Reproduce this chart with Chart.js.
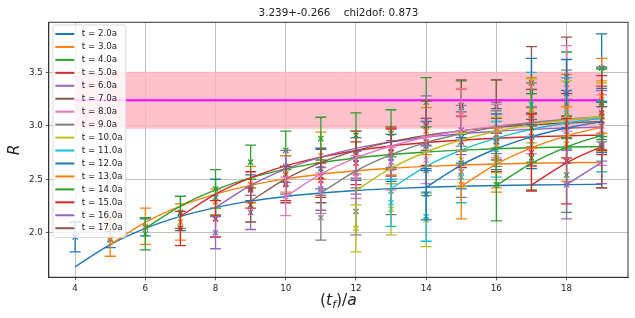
<!DOCTYPE html>
<html>
<head>
<meta charset="utf-8">
<script src="https://cdn.jsdelivr.net/npm/chart.js@4.4.1/dist/chart.umd.min.js"></script>
<style>
  html, body { margin: 0; padding: 0; background: #fff; }
  #wrap { width: 635px; height: 318px; }
</style>
</head>
<body>
<div id="wrap"><canvas id="chart" width="635" height="318"></canvas></div>
<script>
'use strict';

// fit result (title + band)
const plateau = 3.239;
const plateauErr = 0.266;
const chi2dof = 0.873;
const bandRange = [4, 19];

// source times t/a; every series starts at t_f = t + 2 and runs to 19
const tValues = [2, 3, 4, 5, 6, 7, 8, 9, 10, 11, 12, 13, 14, 15, 16, 17];

const xTicks = [4, 6, 8, 10, 12, 14, 16, 18];
const yTicks = [2.0, 2.5, 3.0, 3.5];
const xLabel = '(t_f)/a';
const yLabel = 'R';

// fitted curves, one row per t, read at t_f = t+2 ... 19
const fitR = [
  [1.681, 1.889, 2.041, 2.153, 2.235, 2.295, 2.339, 2.371, 2.395, 2.412, 2.425, 2.434, 2.441, 2.446, 2.450, 2.453],
  [1.889, 2.097, 2.249, 2.361, 2.443, 2.503, 2.547, 2.579, 2.603, 2.620, 2.633, 2.642, 2.649, 2.654, 2.658],
  [2.041, 2.249, 2.401, 2.513, 2.595, 2.655, 2.699, 2.731, 2.755, 2.772, 2.785, 2.794, 2.801, 2.806],
  [2.153, 2.361, 2.513, 2.625, 2.707, 2.767, 2.811, 2.843, 2.867, 2.884, 2.897, 2.906, 2.913],
  [2.235, 2.443, 2.595, 2.707, 2.789, 2.849, 2.893, 2.925, 2.949, 2.966, 2.979, 2.988],
  [2.295, 2.503, 2.655, 2.767, 2.849, 2.909, 2.953, 2.985, 3.009, 3.026, 3.039],
  [2.339, 2.547, 2.699, 2.811, 2.893, 2.953, 2.997, 3.029, 3.053, 3.070],
  [2.371, 2.579, 2.731, 2.843, 2.925, 2.985, 3.029, 3.061, 3.085],
  [2.395, 2.603, 2.755, 2.867, 2.949, 3.009, 3.053, 3.085],
  [2.412, 2.620, 2.772, 2.884, 2.966, 3.026, 3.070],
  [2.425, 2.633, 2.785, 2.897, 2.979, 3.039],
  [2.434, 2.642, 2.794, 2.906, 2.988],
  [2.441, 2.649, 2.801, 2.913],
  [2.446, 2.654, 2.806],
  [2.450, 2.658],
  [2.453]
];

// measured points, same layout as fitR
const dataR = [
  [1.96, 1.935, 2.05, 2.18, 2.33, 2.42, 2.54, 2.60, 2.69, 2.70, 2.81, 2.89, 2.92, 2.86, 3.05, 3.05],
  [1.95, 2.06, 2.10, 2.29, 2.45, 2.55, 2.72, 2.75, 2.76, 2.95, 3.10, 2.70, 2.90, 3.18, 3.10],
  [1.99, 2.19, 2.41, 2.66, 2.77, 2.88, 2.91, 2.93, 3.22, 3.17, 3.18, 2.70, 3.39, 3.22],
  [2.04, 2.13, 2.40, 2.46, 2.49, 2.65, 2.75, 2.85, 2.85, 2.82, 3.07, 3.00, 3.05],
  [2.00, 2.19, 2.62, 2.41, 2.56, 2.66, 3.05, 2.96, 2.98, 2.90, 2.95, 3.00],
  [2.26, 2.45, 2.53, 2.73, 2.79, 3.00, 3.19, 3.18, 3.40, 3.46, 2.82],
  [2.34, 2.37, 2.52, 2.60, 2.68, 3.11, 2.95, 3.02, 3.35, 2.96],
  [2.14, 2.20, 2.39, 2.58, 2.57, 2.88, 3.10, 3.20, 3.20],
  [2.04, 2.22, 2.12, 2.68, 2.82, 3.14, 3.10, 3.08],
  [2.28, 2.15, 2.52, 2.78, 3.20, 3.12, 2.90],
  [2.36, 2.65, 2.85, 3.32, 3.30, 3.54],
  [2.45, 2.68, 3.12, 2.83, 3.28],
  [2.45, 2.98, 2.54, 3.20],
  [2.75, 2.67, 3.12],
  [2.45, 2.82],
  [2.80]
];

const dataErr = [
  [0.14, 0.075, 0.08, 0.16, 0.17, 0.12, 0.18, 0.19, 0.20, 0.22, 0.23, 0.24, 0.24, 0.26, 0.28, 0.30],
  [0.17, 0.17, 0.17, 0.12, 0.17, 0.17, 0.22, 0.20, 0.22, 0.22, 0.24, 0.28, 0.28, 0.30, 0.32],
  [0.15, 0.15, 0.18, 0.16, 0.18, 0.20, 0.21, 0.22, 0.23, 0.25, 0.25, 0.30, 0.30, 0.32],
  [0.16, 0.17, 0.17, 0.16, 0.16, 0.20, 0.22, 0.22, 0.24, 0.25, 0.27, 0.30, 0.32],
  [0.15, 0.16, 0.15, 0.20, 0.20, 0.20, 0.23, 0.23, 0.24, 0.27, 0.30, 0.33],
  [0.16, 0.17, 0.25, 0.22, 0.20, 0.23, 0.24, 0.25, 0.34, 0.37, 0.40],
  [0.18, 0.19, 0.20, 0.20, 0.22, 0.24, 0.25, 0.28, 0.40, 0.33],
  [0.21, 0.22, 0.22, 0.23, 0.24, 0.26, 0.30, 0.32, 0.35],
  [0.22, 0.24, 0.25, 0.25, 0.26, 0.30, 0.32, 0.32],
  [0.22, 0.23, 0.24, 0.26, 0.30, 0.33, 0.33],
  [0.24, 0.24, 0.26, 0.31, 0.32, 0.32],
  [0.32, 0.30, 0.33, 0.35, 0.35],
  [0.34, 0.32, 0.35, 0.33],
  [0.36, 0.40, 0.35],
  [0.32, 0.36],
  [0.38]
];

const colors = ['#1f77b4', '#ff7f0e', '#2ca02c', '#d62728', '#9467bd',
                '#8c564b', '#e377c2', '#7f7f7f', '#bcbd22', '#17becf'];

const FONT = 'DejaVu Sans';
const TEXT = '#222';
Chart.defaults.font.family = FONT;
Chart.defaults.color = TEXT;

function seriesLabel(t) {
  return 't = ' + t.toFixed(1) + 'a';
}

// errorbars under the x markers
const errorBars = {
  id: 'errorBars',
  beforeDatasetDraw(chart, args) {
    const ds = chart.data.datasets[args.index];
    if (!ds.errors) return;
    const y = chart.scales.y;
    const ctx = chart.ctx;
    const cap = 5.5;
    ctx.save();
    ctx.strokeStyle = ds.borderColor;
    ctx.lineWidth = 1.3;
    args.meta.data.forEach((pt, k) => {
      const v = ds.data[k].y, e = ds.errors[k];
      const top = y.getPixelForValue(v + e);
      const bot = y.getPixelForValue(v - e);
      ctx.beginPath();
      ctx.moveTo(pt.x, top); ctx.lineTo(pt.x, bot);
      ctx.moveTo(pt.x - cap, top); ctx.lineTo(pt.x + cap, top);
      ctx.moveTo(pt.x - cap, bot); ctx.lineTo(pt.x + cap, bot);
      ctx.stroke();
    });
    ctx.restore();
  }
};

// top/right spines, the boxed legend and the x label with subscript
const decorations = {
  id: 'decorations',
  afterDraw(chart) {
    const { ctx, chartArea: a } = chart;
    ctx.save();
    ctx.strokeStyle = '#333';
    ctx.lineWidth = 1;
    ctx.strokeRect(a.left, a.top, a.right - a.left, a.bottom - a.top);

    // legend
    const lx = a.left + 4, ly = a.top + 2.7, lw = 73, rowH = 12.95;
    const lh = rowH * tValues.length + 5.3;
    ctx.beginPath();
    ctx.roundRect(lx, ly, lw, lh, 2.5);
    ctx.fillStyle = 'rgba(255,255,255,0.8)';
    ctx.fill();
    ctx.strokeStyle = '#d0d0d0';
    ctx.lineWidth = 0.8;
    ctx.stroke();
    ctx.font = '8.7px "' + FONT + '"';
    ctx.textBaseline = 'middle';
    ctx.textAlign = 'left';
    tValues.forEach((t, i) => {
      const yy = ly + 9 + i * rowH;
      ctx.strokeStyle = colors[i % colors.length];
      ctx.lineWidth = 2;
      ctx.beginPath();
      ctx.moveTo(lx + 2.5, yy); ctx.lineTo(lx + 21.5, yy);
      ctx.stroke();
      ctx.fillStyle = TEXT;
      ctx.fillText(seriesLabel(t), lx + 29, yy);
    });

    // x label: (t_f)/a
    const size = 15.6;
    const parts = [
      { s: '(', it: false, sz: size, dy: 0 },
      { s: 't', it: true, sz: size, dy: 0 },
      { s: 'f', it: true, sz: size * 0.7, dy: 2.6 },
      { s: ')/', it: false, sz: size, dy: 0 },
      { s: 'a', it: true, sz: size, dy: 0 }
    ];
    const fontOf = p => (p.it ? 'italic ' : '') + p.sz + 'px "' + FONT + '"';
    let total = 0;
    parts.forEach(p => { ctx.font = fontOf(p); p.w = ctx.measureText(p.s).width; total += p.w; });
    let x = (a.left + a.right) / 2 - total / 2;
    const base = 305;
    ctx.fillStyle = TEXT;
    ctx.textBaseline = 'alphabetic';
    parts.forEach(p => {
      ctx.font = fontOf(p);
      ctx.fillText(p.s, x, base + p.dy);
      x += p.w;
    });
    ctx.restore();
  }
};

const datasets = [];

datasets.push({
  type: 'line',
  label: 'band',
  data: bandRange.map(x => ({ x: x, y: plateau + plateauErr })),
  fill: { value: plateau - plateauErr },
  backgroundColor: 'rgba(255,179,193,0.8)',
  borderWidth: 0,
  pointRadius: 0,
  order: 300
});
datasets.push({
  type: 'line',
  label: 'plateau',
  data: bandRange.map(x => ({ x: x, y: plateau })),
  borderColor: '#ff00ff',
  borderWidth: 1.8,
  pointRadius: 0,
  fill: false,
  order: 299
});

tValues.forEach((t, i) => {
  const color = colors[i % colors.length];
  datasets.push({
    type: 'scatter',
    label: 'data ' + seriesLabel(t),
    data: dataR[i].map((r, k) => ({ x: t + 2 + k, y: r })),
    errors: dataErr[i],
    borderColor: color,
    backgroundColor: color,
    pointStyle: 'crossRot',
    pointRadius: 3.7,
    borderWidth: 1.3,
    order: 100 - 2 * i
  });
  datasets.push({
    type: 'line',
    label: seriesLabel(t),
    data: fitR[i].map((r, k) => ({ x: t + 2 + k, y: r })),
    borderColor: color,
    borderWidth: 1.4,
    pointRadius: 0,
    fill: false,
    cubicInterpolationMode: 'monotone',
    order: 99 - 2 * i
  });
});

new Chart(document.getElementById('chart').getContext('2d'), {
  type: 'line',
  data: { datasets: datasets },
  plugins: [errorBars, decorations],
  options: {
    responsive: false,
    animation: false,
    devicePixelRatio: 1,
    layout: { padding: { left: 0, right: 7, top: 0, bottom: 0 } },
    plugins: {
      legend: { display: false },
      tooltip: { enabled: false },
      title: {
        display: true,
        fullSize: false,
        text: plateau + '+-' + plateauErr + '    chi2dof: ' + chi2dof,
        color: TEXT,
        font: { family: FONT, size: 10.4, weight: 'normal' },
        padding: { top: 7.3, bottom: 2.5 }
      }
    },
    scales: {
      x: {
        type: 'linear',
        min: 3.25,
        max: 19.75,
        afterBuildTicks: s => { s.ticks = xTicks.map(v => ({ value: v })); },
        afterFit: s => { s.height = 40.7; },
        ticks: {
          autoSkip: false, maxRotation: 0, padding: 3,
          font: { size: 8.7 }, color: TEXT,
          callback: v => String(v)
        },
        grid: { color: '#b0b0b0', lineWidth: 0.8, tickColor: '#333', tickLength: 3 },
        border: { display: true, color: '#333', width: 1 }
      },
      y: {
        min: 1.583,
        max: 3.968,
        afterBuildTicks: s => { s.ticks = yTicks.map(v => ({ value: v })); },
        afterFit: s => { s.width = 48.8; },
        title: {
          display: true,
          text: yLabel,
          color: TEXT,
          font: { family: FONT, size: 15.6, style: 'italic' },
          padding: { top: 5.6, bottom: 0 }
        },
        ticks: {
          padding: 3,
          font: { size: 8.7 }, color: TEXT,
          callback: v => v.toFixed(1)
        },
        grid: { color: '#b0b0b0', lineWidth: 0.8, tickColor: '#333', tickLength: 3 },
        border: { display: true, color: '#333', width: 1 }
      }
    }
  }
});
</script>
</body>
</html>
